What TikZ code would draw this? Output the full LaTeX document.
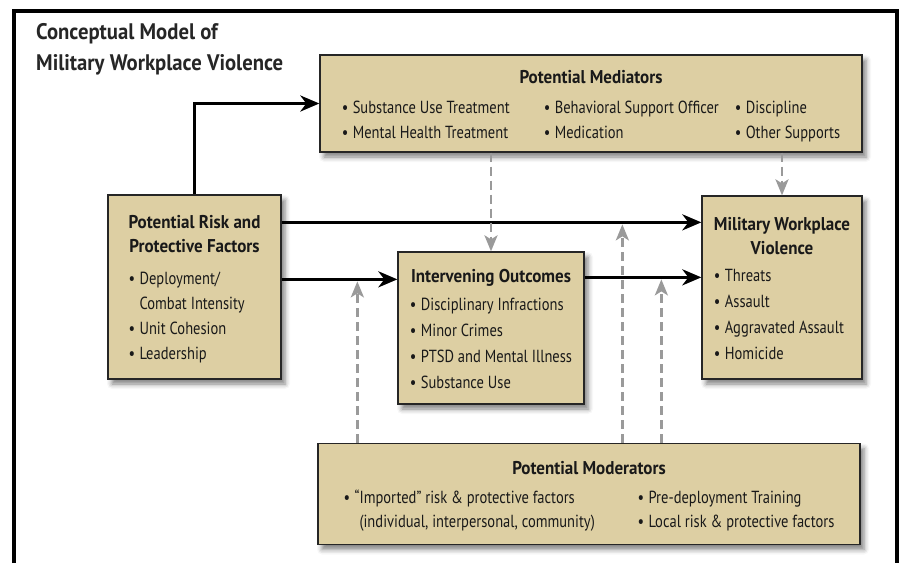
\documentclass[tikz,border=0pt]{standalone}
\usepackage{fontspec}
\setmainfont{PT Sans}[UprightFeatures={FakeStretch=0.83},BoldFeatures={FakeStretch=0.92}]
\usetikzlibrary{arrows.meta,shadows.blur}
\definecolor{boxfill}{HTML}{DDCFA3}
\definecolor{dashgray}{HTML}{9A9A9A}
\newcommand{\bull}{\makebox[11pt][l]{•}}
\newcommand{\ind}{\hspace*{11pt}}
\newcommand{\hd}[1]{{\fontsize{18.5}{25}\selectfont\bfseries #1}}
\newcommand{\low}[1]{\raisebox{-2pt}[\height][\depth]{#1}}

\begin{document}
\begin{tikzpicture}[x=1pt,y=1pt,
  box/.style={draw=black!85, line width=1.3pt, fill=boxfill, inner sep=0pt,
    blur shadow={shadow xshift=4pt,shadow yshift=-5pt,shadow blur radius=5pt,shadow opacity=50},
    font=\fontsize{17.5}{25}\selectfont, text=black!90},
  wide/.style={font=\fontsize{17.5}{26}\selectfont},
  flow/.style={line width=3.3pt, -{Stealth[length=19pt,width=16pt,inset=6pt]}},
  dflow/.style={dashgray, line width=2.6pt, dash pattern=on 9pt off 5pt,
    -{Stealth[length=16pt,width=13pt,inset=4pt]}}]
\useasboundingbox (0,0) rectangle (903,-563);
% frame
\draw[line width=4pt] (14,-563) -- (14,-11) -- (897,-11) -- (897,-563);
\node[anchor=north west, align=left, inner sep=0pt, text=black!85,
  font=\fontsize{22.5}{31}\selectfont\bfseries] (title) at (36,-23.5)
  {Conceptual Model of\\Military Workplace Violence};

% boxes
\node[box, minimum width=542pt, minimum height=97pt] (med) at (591,-103.5) {\low{%
\begin{tabular}{@{}p{202pt}@{}p{191pt}@{}l@{}}
\multicolumn{3}{c}{\hd{Potential Mediators}}\\[5pt]
\bull Substance Use Treatment & \bull Behavioral Support Officer & \bull Discipline\\
\bull Mental Health Treatment & \bull Medication & \bull Other Supports
\end{tabular}}};
\node[box, minimum width=173pt, minimum height=184pt] (risk) at (194.5,-287) {\low{%
\begin{tabular}{@{}l@{}}
\multicolumn{1}{@{}c@{}}{\hd{Potential Risk and}}\\[-1pt]
\multicolumn{1}{@{}c@{}}{\hd{Protective Factors}}\\[7pt]
\bull Deployment/\\
\ind Combat Intensity\\
\bull Unit Cohesion\\
\bull Leadership
\end{tabular}}};
\node[box, wide, minimum width=186pt, minimum height=152pt] (inter) at (491,-328) {\low{%
\begin{tabular}{@{}l@{}}
\multicolumn{1}{@{}c@{}}{\hd{Intervening Outcomes}}\\[2pt]
\bull Disciplinary Infractions\\
\bull Minor Crimes\\
\bull PTSD and Mental Illness\\
\bull Substance Use
\end{tabular}}};
\node[box, wide, minimum width=160pt, minimum height=183pt] (mwv) at (782,-287.5) {\low{%
\begin{tabular}{@{}l@{}}
\multicolumn{1}{@{}c@{}}{\hd{Military Workplace}}\\[-2pt]
\multicolumn{1}{@{}c@{}}{\hd{Violence}}\\[1pt]
\bull Threats\\
\bull Assault\\
\bull Aggravated Assault\\
\bull Homicide
\end{tabular}}};
\node[box, minimum width=542pt, minimum height=101pt] (mod) at (589,-494) {\low{%
\begin{tabular}{@{}p{294pt}@{}l@{}}
\multicolumn{2}{c}{\hd{Potential Moderators}}\\[4pt]
\bull “Imported” risk \& protective factors & \bull Pre-deployment Training\\[-1pt]
\ind\phantom{“}(individual, interpersonal, community) & \bull Local risk \& protective factors
\end{tabular}}};

% solid paths
\coordinate (a1) at ([yshift=-28pt]risk.north east);
\coordinate (a1e) at (a1 -| mwv.west);
\coordinate (a2) at ([yshift=-28pt]inter.north west);
\coordinate (b2) at ([yshift=-26pt]inter.north east);
\coordinate (b2e) at (b2 -| mwv.west);
\draw[flow] (risk.north) |- (med.west);
\draw[flow] (a1) -- (a1e);
\draw[flow] (a2 -| risk.east) -- (a2);
\draw[flow] (b2) -- (b2e);

% dashed paths
\coordinate (m1) at ([xshift=-40pt,yshift=-2pt]a2);
\coordinate (m2) at ([xshift=-79pt,yshift=-2pt]a1e);
\coordinate (m3) at ([xshift=-40pt,yshift=-2pt]b2e);
\draw[dflow] (med.south -| inter.north) -- (inter.north);
\draw[dflow] (med.south -| mwv.north) -- (mwv.north);
\draw[dflow] (mod.north -| m1) -- (m1);
\draw[dflow] (mod.north -| m2) -- (m2);
\draw[dflow] (mod.north -| m3) -- (m3);
\end{tikzpicture}
\end{document}
